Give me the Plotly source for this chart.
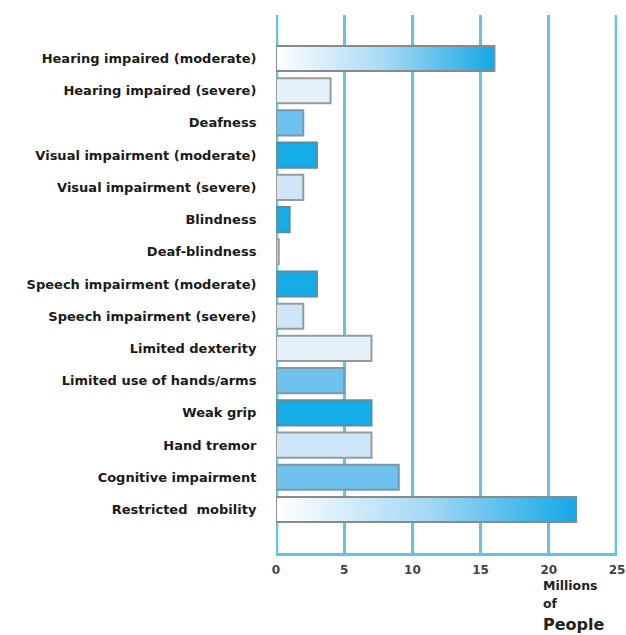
import plotly.graph_objects as go

categories = [
    "Hearing impaired (moderate)",
    "Hearing impaired (severe)",
    "Deafness",
    "Visual impairment (moderate)",
    "Visual impairment (severe)",
    "Blindness",
    "Deaf-blindness",
    "Speech impairment (moderate)",
    "Speech impairment (severe)",
    "Limited dexterity",
    "Limited use of hands/arms",
    "Weak grip",
    "Hand tremor",
    "Cognitive impairment",
    "Restricted  mobility",
]
values = [16, 4, 2, 3, 2, 1, 0.2, 3, 2, 7, 5, 7, 7, 9, 22]
# fill style per bar: "grad", "light", "pale", "mid", "strong"
styles = ["grad", "pale", "mid", "strong", "light", "strong", "light", "strong",
          "light", "pale", "mid", "strong", "light", "mid", "grad"]
x_ticks = [0, 5, 10, 15, 20, 25]

fill_map = {
    "pale": "#e4f1fb",
    "light": "#cde6f8",
    "mid": "#6fc1ee",
    "strong": "#14ade8",
    "grad": "rgba(0,0,0,0)",
}
line_map = {
    "pale": "#9a9a9a",
    "light": "#9a9a9a",
    "mid": "#7f98a8",
    "strong": "#5f8aa0",
    "grad": "#8a8a8a",
}

idx = list(range(len(categories)))
bar_w = 0.78
grid_c = "#5ec6e2"

fig = go.Figure()

# edge grid lines (plotly clips grid lines that sit on the plot-area edges)
for xv in (x_ticks[0], x_ticks[-1]):
    fig.add_shape(type="line", xref="x", yref="paper", x0=xv, x1=xv, y0=0, y1=1,
                  line=dict(color=grid_c, width=4.5), layer="below")

fig.add_trace(go.Bar(
    x=values, y=idx, orientation="h", width=bar_w,
    marker=dict(color=[fill_map[s] for s in styles],
                line=dict(color=[line_map[s] for s in styles], width=2)),
    hoverinfo="skip", showlegend=False,
))

for i, (v, s) in enumerate(zip(values, styles)):
    if s != "grad":
        continue
    h = bar_w / 2
    fig.add_trace(go.Scatter(
        x=[0, v, v, 0, 0], y=[i - h, i - h, i + h, i + h, i - h],
        mode="lines", fill="toself",
        fillgradient=dict(type="horizontal",
                          colorscale=[[0, "#ffffff"], [0.5, "#a6d8f5"], [1, "#15a8e6"]]),
        line=dict(color="#8a8a8a", width=2),
        hoverinfo="skip", showlegend=False,
    ))

fig.update_layout(
    width=626, height=635,
    margin=dict(l=276, r=9, t=15, b=82, autoexpand=False),
    plot_bgcolor="white", paper_bgcolor="white",
    barmode="overlay",
    xaxis=dict(range=[0, 25], tickvals=x_ticks, showgrid=True, gridcolor=grid_c,
               gridwidth=2.5, zeroline=False, showline=True, linecolor=grid_c,
               linewidth=2.5, ticks="outside", ticklen=4, tickcolor="rgba(0,0,0,0)",
               automargin=False,
               tickfont=dict(family="DejaVu Sans", size=12, color="#444", weight="bold")),
    yaxis=dict(range=[len(categories) - 1 + 1.35, -1.35], tickvals=idx, ticktext=categories,
               showgrid=False, zeroline=False, showline=False, automargin=False,
               ticks="outside", ticklen=16, tickcolor="rgba(0,0,0,0)",
               tickfont=dict(family="DejaVu Sans", size=13, color="#1a1a1a", weight="bold")),
)

ann_font = dict(family="DejaVu Sans", color="#222", weight="bold")
fig.add_annotation(x=19.4, y=-0.061, xref="x", yref="paper", text="Millions",
                   showarrow=False, xanchor="left", yanchor="middle",
                   font=dict(size=12.5, **ann_font))
fig.add_annotation(x=19.4, y=-0.093, xref="x", yref="paper", text="of",
                   showarrow=False, xanchor="left", yanchor="middle",
                   font=dict(size=12.5, **ann_font))
fig.add_annotation(x=19.4, y=-0.132, xref="x", yref="paper", text="People",
                   showarrow=False, xanchor="left", yanchor="middle",
                   font=dict(size=16, **ann_font))

fig.write_html("out.html")
